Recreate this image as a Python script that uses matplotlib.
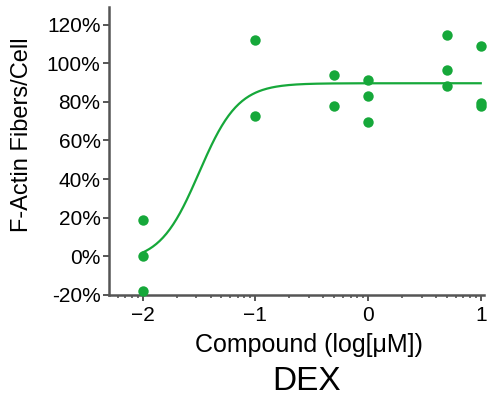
import matplotlib
matplotlib.use('Agg')

import numpy as np
import matplotlib.pyplot as plt
from matplotlib.ticker import FixedLocator, FuncFormatter

# Data (log10 concentration in uM, response in %)
dose_log = [-2, -2, -2,
            -1, -1,
            -0.301, -0.301,
            0, 0, 0,
            0.699, 0.699, 0.699,
            1, 1, 1]
response = [19, 0, -18,
            112, 72.5,
            94, 78,
            91.5, 83, 69.5,
            114.5, 96.5, 88,
            109, 79.5, 78]

# Fitted 4-parameter logistic curve
fit_bottom = -3
fit_top = 89.6
fit_log_ec50 = -1.5
fit_hill = 2.5

x_ticks = [-2, -1, 0, 1]
y_ticks = [-20, 0, 20, 40, 60, 80, 100, 120]

green = '#16a83a'
axis_gray = '#555555'

plt.rcParams['font.family'] = ['Liberation Sans', 'DejaVu Sans']

fig = plt.figure(figsize=(4.95, 3.99), dpi=100)
ax = fig.add_axes([0.220, 0.261, 0.758, 0.721])

xs = np.linspace(-2, 1, 300)
ys = fit_bottom + (fit_top - fit_bottom) / (1 + 10 ** ((fit_log_ec50 - xs) * fit_hill))
ax.plot(xs, ys, color=green, lw=1.6, zorder=2)
ax.plot(dose_log, response, 'o', color=green, ms=7.5, mec='none', zorder=3, clip_on=False)

ax.set_xlim(-2.3, 1.03)
ax.set_ylim(-20, 129)

ax.set_xticks(x_ticks)
ax.set_yticks(y_ticks)
ax.yaxis.set_major_formatter(FuncFormatter(lambda v, p: f'{int(v)}%'))
minor = [d + np.log10(k) for d in range(-3, 1) for k in range(2, 10)]
ax.xaxis.set_minor_locator(FixedLocator(minor))

for s in ['top', 'right']:
    ax.spines[s].set_visible(False)
for s in ['left', 'bottom']:
    ax.spines[s].set_color(axis_gray)
    ax.spines[s].set_linewidth(1.8)

ax.tick_params(axis='both', which='major', length=4, width=1.4, color=axis_gray,
               labelsize=15, pad=2)
ax.tick_params(axis='x', which='minor', length=2.5, width=1.2, color=axis_gray)
ax.tick_params(axis='x', which='major', pad=4)

ax.set_ylabel('F-Actin Fibers/Cell', fontsize=17, va='center',
              family=['Liberation Sans Narrow', 'Liberation Sans', 'DejaVu Sans'])
ax.yaxis.set_label_coords(-0.231, 0.556)
ax.set_xlabel('Compound (log[\u03bcM])', fontsize=18, va='center')
ax.xaxis.set_label_coords(0.533, -0.174)
fig.text(0.620, 0.043, 'DEX', fontsize=24, ha='center', va='center')

plt.savefig('out.png', dpi=100)
